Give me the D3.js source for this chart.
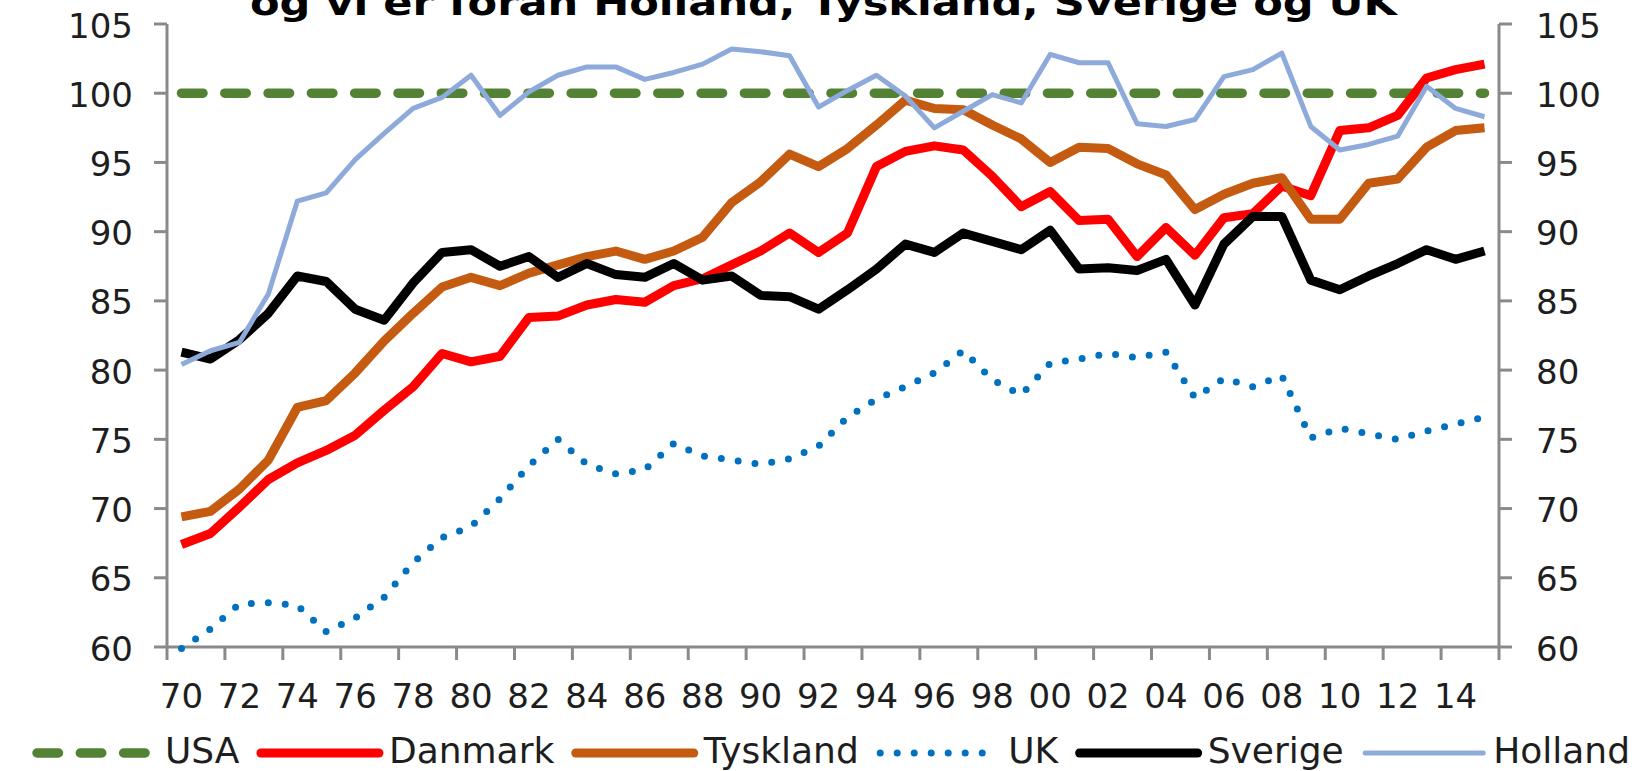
<!DOCTYPE html>
<html>
<head>
<meta charset="utf-8">
<script src="https://cdn.jsdelivr.net/npm/d3@7"></script>
<style>
  body { margin: 0; background: #fff; }
  svg { display: block; }
  text { font-family: Verdana, "DejaVu Sans", sans-serif; fill: #1e1e1e; }
</style>
</head>
<body>
<script>
// years on the x axis, 1970-2015
var years = [1970,1971,1972,1973,1974,1975,1976,1977,1978,1979,
             1980,1981,1982,1983,1984,1985,1986,1987,1988,1989,
             1990,1991,1992,1993,1994,1995,1996,1997,1998,1999,
             2000,2001,2002,2003,2004,2005,2006,2007,2008,2009,
             2010,2011,2012,2013,2014,2015];

var usa = years.map(function() { return 100; });

var danmark = [67.4,68.2,70.1,72.1,73.3,74.2,75.3,77.1,78.8,81.2,
               80.6,81.0,83.8,83.9,84.7,85.1,84.9,86.1,86.6,87.6,
               88.6,89.9,88.5,89.9,94.7,95.8,96.2,95.9,94.0,91.8,
               92.9,90.8,90.9,88.2,90.3,88.3,91.0,91.3,93.3,92.6,
               97.3,97.5,98.4,101.1,101.7,102.1];

var tyskland = [69.4,69.8,71.4,73.5,77.3,77.8,79.8,82.1,84.1,86.0,
                86.7,86.1,87.0,87.6,88.2,88.6,88.0,88.6,89.6,92.1,
                93.6,95.6,94.7,96.0,97.7,99.5,98.9,98.8,97.7,96.7,
                95.0,96.1,96.0,94.9,94.1,91.6,92.7,93.5,93.9,90.9,
                90.9,93.5,93.8,96.1,97.3,97.5];

var uk = [59.9,61.3,63.1,63.2,63.0,61.1,62.1,63.6,66.1,67.9,
          68.7,70.7,73.1,75.0,73.2,72.5,72.8,74.7,73.8,73.5,
          73.2,73.6,74.5,76.6,77.9,78.8,79.8,81.4,79.3,78.2,
          80.5,80.8,81.2,80.9,81.3,78.0,79.4,78.8,79.6,75.1,
          75.8,75.4,75.0,75.6,76.1,76.6];

var sverige = [81.3,80.8,82.2,84.1,86.8,86.4,84.4,83.6,86.3,88.5,
               88.7,87.5,88.2,86.7,87.7,86.9,86.7,87.7,86.5,86.8,
               85.4,85.3,84.4,85.8,87.3,89.1,88.5,89.9,89.3,88.7,
               90.1,87.3,87.4,87.2,88.0,84.7,89.1,91.1,91.1,86.5,
               85.8,86.8,87.7,88.7,88.0,88.6];

var holland = [80.4,81.4,82.0,85.5,92.2,92.8,95.2,97.1,98.9,99.7,
               101.3,98.4,100.1,101.3,101.9,101.9,101.0,101.5,102.1,103.2,
               103.0,102.7,99.0,100.2,101.3,99.8,97.5,98.7,99.9,99.3,
               102.8,102.2,102.2,97.8,97.6,98.1,101.2,101.7,102.9,97.6,
               95.9,96.3,96.9,100.5,98.9,98.3];

var yTicks = [60,65,70,75,80,85,90,95,100,105];

var title = "og vi er foran Holland, Tyskland, Sverige og UK";

var series = [
  {name: "USA",      values: usa,      color: "#548235", width: 9.5, dash: "21.5,21.8", cap: "round"},
  {name: "Danmark",  values: danmark,  color: "#ff0000", width: 9},
  {name: "Tyskland", values: tyskland, color: "#c55a11", width: 9},
  {name: "UK",       values: uk,       color: "#0070c0", width: 7, dash: "0,17", cap: "round"},
  {name: "Sverige",  values: sverige,  color: "#000000", width: 9},
  {name: "Holland",  values: holland,  color: "#8eaadb", width: 5}
];

var width = 1634,
    height = 771,
    plotLeft = 167,
    plotRight = 1499,
    plotTop = 24,
    plotBottom = 647;

var svg = d3.select("body").append("svg")
    .attr("width", width)
    .attr("height", height);

var x = d3.scaleBand()
    .domain(years)
    .range([plotLeft, plotRight])
    .padding(0);

var y = d3.scaleLinear()
    .domain([60, 105])
    .range([plotBottom, plotTop]);

function cx(yr) { return x(yr) + x.bandwidth() / 2; }

var axisColor = "#8a8a8a";

// title (only the lower line is visible)
svg.append("text")
    .attr("x", 250)
    .attr("y", 15)
    .attr("font-size", "35px")
    .attr("font-weight", "bold")
    .attr("textLength", 1147)
    .attr("lengthAdjust", "spacingAndGlyphs")
    .style("fill", "#000")
    .text(title);

// left and right value axes
var axes = svg.append("g");
axes.append("line")
    .attr("x1", plotLeft).attr("x2", plotLeft)
    .attr("y1", plotTop).attr("y2", plotBottom)
    .attr("stroke", axisColor).attr("stroke-width", 3);
axes.append("line")
    .attr("x1", plotRight).attr("x2", plotRight)
    .attr("y1", plotTop).attr("y2", plotBottom)
    .attr("stroke", axisColor).attr("stroke-width", 3);

axes.selectAll(".ytl")
    .data(yTicks)
    .enter()
    .append("line")
    .attr("x1", plotLeft - 13).attr("x2", plotLeft)
    .attr("y1", function(d) { return y(d); })
    .attr("y2", function(d) { return y(d); })
    .attr("stroke", axisColor).attr("stroke-width", 3);

axes.selectAll(".ytr")
    .data(yTicks)
    .enter()
    .append("line")
    .attr("x1", plotRight).attr("x2", plotRight + 13)
    .attr("y1", function(d) { return y(d); })
    .attr("y2", function(d) { return y(d); })
    .attr("stroke", axisColor).attr("stroke-width", 3);

axes.selectAll(".ylabL")
    .data(yTicks)
    .enter()
    .append("text")
    .attr("x", 133)
    .attr("y", function(d) { return y(d) + 13.5; })
    .attr("text-anchor", "end")
    .attr("font-size", "34px")
    .text(function(d) { return d; });

axes.selectAll(".ylabR")
    .data(yTicks)
    .enter()
    .append("text")
    .attr("x", 1536)
    .attr("y", function(d) { return y(d) + 13.5; })
    .attr("text-anchor", "start")
    .attr("font-size", "34px")
    .text(function(d) { return d; });

// category axis at the bottom
axes.append("line")
    .attr("x1", plotLeft).attr("x2", plotRight)
    .attr("y1", plotBottom).attr("y2", plotBottom)
    .attr("stroke", axisColor).attr("stroke-width", 3);

var evenYears = years.filter(function(d) { return d % 2 === 0; });

axes.selectAll(".xt")
    .data(evenYears)
    .enter()
    .append("line")
    .attr("x1", function(d) { return x(d); })
    .attr("x2", function(d) { return x(d); })
    .attr("y1", plotBottom).attr("y2", plotBottom + 13)
    .attr("stroke", axisColor).attr("stroke-width", 3);
axes.append("line")
    .attr("x1", plotRight).attr("x2", plotRight)
    .attr("y1", plotBottom).attr("y2", plotBottom + 13)
    .attr("stroke", axisColor).attr("stroke-width", 3);

axes.selectAll(".xl")
    .data(evenYears)
    .enter()
    .append("text")
    .attr("x", function(d) { return cx(d); })
    .attr("y", 708)
    .attr("text-anchor", "middle")
    .attr("font-size", "34px")
    .text(function(d) { return String(d).slice(2); });

// series lines
var line = d3.line()
    .x(function(d, i) { return cx(years[i]); })
    .y(function(d) { return y(d); });

svg.append("g")
    .selectAll("path")
    .data(series)
    .enter()
    .append("path")
    .attr("d", function(s) { return line(s.values); })
    .attr("fill", "none")
    .attr("stroke", function(s) { return s.color; })
    .attr("stroke-width", function(s) { return s.width; })
    .attr("stroke-dasharray", function(s) { return s.dash || null; })
    .attr("stroke-linecap", function(s) { return s.cap || "butt"; })
    .attr("stroke-linejoin", "round");

// legend, spread across the same span as the original (x 37 .. 1630)
var legend = svg.append("g");
var symLen = 118, symGap = 10, legY = 753, legStart = 37, legEnd = 1630;
var items = legend.selectAll("g")
    .data(series)
    .enter()
    .append("g");

items.append("line")
    .attr("x1", 0).attr("x2", symLen)
    .attr("y1", legY).attr("y2", legY)
    .attr("stroke", function(s) { return s.color; })
    .attr("stroke-width", function(s) { return s.width; })
    .attr("stroke-dasharray", function(s) { return s.dash || null; })
    .attr("stroke-linecap", "round");

items.append("text")
    .attr("x", symLen + symGap)
    .attr("y", 763)
    .attr("font-size", "36px")
    .text(function(s) { return s.name; });

var widths = [];
items.each(function() {
  widths.push(symLen + symGap + d3.select(this).select("text").node().getComputedTextLength());
});
var itemGap = (legEnd - legStart - d3.sum(widths)) / (widths.length - 1);
var pos = legStart;
items.attr("transform", function(d, i) {
  var t = "translate(" + pos + ",0)";
  pos += widths[i] + itemGap;
  return t;
});
</script>
</body>
</html>
